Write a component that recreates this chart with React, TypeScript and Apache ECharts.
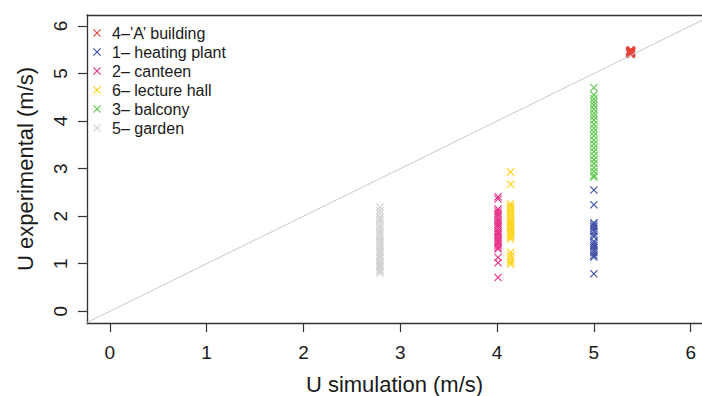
import React, { useEffect, useRef } from 'react';
import * as echarts from 'echarts';

const seriesNames = ['4–’A’ building', '1– heating plant', '2– canteen', '6– lecture hall', '3– balcony', '5– garden'];
const seriesColors = ['#E5443A', '#3D4EA6', '#E8318A', '#FFD20F', '#5DC84C', '#D2D2D2'];

const buildingX = [5.37, 5.38, 5.39, 5.38, 5.368, 5.392, 5.38, 5.386, 5.374, 5.38, 5.389, 5.371, 5.38, 5.384, 5.376, 5.37, 5.39, 5.38];
const buildingY = [5.47, 5.45, 5.44, 5.48, 5.43, 5.46, 5.44, 5.42, 5.49, 5.45, 5.41, 5.47, 5.43, 5.5, 5.46, 5.42, 5.48, 5.4];

const heatingX = 5.0;
const heatingY = [2.55, 2.24, 1.86, 1.82, 1.78, 1.73, 1.68, 1.62, 1.57, 1.47, 1.42, 1.38, 1.33, 1.28, 1.23, 1.18, 1.14, 0.79];

const canteenX = 4.01;
const canteenY = [2.41, 2.36, 2.15, 2.11, 2.06, 2.02, 1.97, 1.92, 1.88, 1.83, 1.79, 1.74, 1.69, 1.65, 1.61, 1.56, 1.51, 1.47, 1.43, 1.39, 1.34, 1.31, 1.13, 1.02, 0.71];

const lectureX = 4.14;
const lectureY = [2.93, 2.67, 2.26, 2.21, 2.16, 2.11, 2.05, 2.0, 1.95, 1.9, 1.86, 1.81, 1.76, 1.71, 1.66, 1.61, 1.57, 1.52, 1.24, 1.17, 1.1, 1.04, 0.99];

const balconyX = 5.0;
const balconyY = [4.7, 4.55, 4.47, 4.4, 4.33, 4.25, 4.17, 4.1, 4.02, 3.93, 3.85, 3.77, 3.69, 3.6, 3.52, 3.44, 3.36, 3.27, 3.19, 3.11, 3.02, 2.94, 2.86, 2.82];

const gardenX = 2.79;
const gardenY = [2.19, 2.12, 2.05, 1.98, 1.93, 1.88, 1.82, 1.77, 1.71, 1.66, 1.62, 1.57, 1.52, 1.47, 1.43, 1.38, 1.33, 1.28, 1.24, 1.19, 1.15, 1.11, 1.06, 1.01, 0.97, 0.93, 0.88, 0.84, 0.8];

const tickValues = [0, 1, 2, 3, 4, 5, 6];
const diagonal = [[-1, -1], [7, 7]];

const X_PATH = 'path://M0,1L1,0L5,4L9,0L10,1L6,5L10,9L9,10L5,6L1,10L0,9L4,5Z';
const FONT = '"Liberation Sans", Arial, Helvetica, sans-serif';
const AXIS_COLOR = '#333';

export default function App() {
  const ref = useRef<HTMLDivElement>(null);
  useEffect(() => {
    if (!ref.current) return;
    const chart = echarts.init(ref.current, undefined, { renderer: 'svg' });
    const pts: number[][][] = [
      buildingX.map((x, i) => [x, buildingY[i]]),
      heatingY.map((y) => [heatingX, y]),
      canteenY.map((y) => [canteenX, y]),
      lectureY.map((y) => [lectureX, y]),
      balconyY.map((y) => [balconyX, y]),
      gardenY.map((y) => [gardenX, y]),
    ];
    const scatter = seriesNames.map((name, i) => ({
      name,
      type: 'scatter',
      data: pts[i],
      symbol: X_PATH,
      symbolSize: 8,
      itemStyle: { color: seriesColors[i], opacity: 1 },
      emphasis: { disabled: true },
      z: 2,
    }));
    const axisLine = { show: true, onZero: false, lineStyle: { color: AXIS_COLOR, width: 1.3 } };
    const axisTick = { show: true, length: 9, customValues: tickValues, lineStyle: { color: AXIS_COLOR, width: 1.2 } };
    const xMin = -0.236;
    const xMax = 6.117;
    chart.setOption({
      animation: false,
      backgroundColor: '#fff',
      textStyle: { fontFamily: FONT },
      grid: { left: 87, top: 15, width: 615, height: 308, show: false, containLabel: false, outerBoundsMode: 'none' },
      legend: {
        orient: 'vertical',
        left: 93,
        top: 23.5,
        padding: 0,
        itemGap: 0,
        itemWidth: 8,
        itemHeight: 8,
        data: seriesNames.map((n) => ({ name: n, icon: X_PATH })),
        textStyle: { fontFamily: FONT, fontSize: 16, lineHeight: 19, color: '#1a1a1a', padding: [0, 0, 0, 6] },
        selectedMode: false,
      },
      xAxis: [
        {
          type: 'value',
          position: 'bottom',
          min: xMin,
          max: xMax,
          axisLine,
          axisTick,
          splitLine: { show: false },
          axisLabel: { customValues: tickValues, fontSize: 19, color: '#1a1a1a', margin: 20, fontFamily: FONT },
          name: 'U simulation (m/s)',
          nameLocation: 'middle',
          nameGap: 50,
          nameTextStyle: { fontSize: 22, color: '#1a1a1a', fontFamily: FONT },
        },
        {
          type: 'value',
          position: 'top',
          min: xMin,
          max: xMax,
          axisLine,
          axisTick: { show: false },
          axisLabel: { show: false },
          splitLine: { show: false },
        },
      ],
      yAxis: {
        type: 'value',
        min: -0.246,
        max: 6.23,
        axisLine,
        axisTick,
        splitLine: { show: false },
        axisLabel: { customValues: tickValues, fontSize: 19, color: '#1a1a1a', margin: 17, rotate: 90, fontFamily: FONT },
        name: 'U experimental (m/s)',
        nameLocation: 'middle',
        nameGap: 51,
        nameTextStyle: { fontSize: 22, color: '#1a1a1a', fontFamily: FONT },
      },
      series: [
        ...scatter,
        {
          name: 'diag',
          type: 'line',
          data: diagonal,
          showSymbol: false,
          symbol: 'none',
          clip: true,
          lineStyle: { color: '#c8c8c8', width: 1 },
          silent: true,
          z: 3,
        },
      ],
    });
    return () => chart.dispose();
  }, []);
  return <div ref={ref} style={{ position: 'fixed', left: 0, top: 0, width: 702, height: 396 }} />;
}
